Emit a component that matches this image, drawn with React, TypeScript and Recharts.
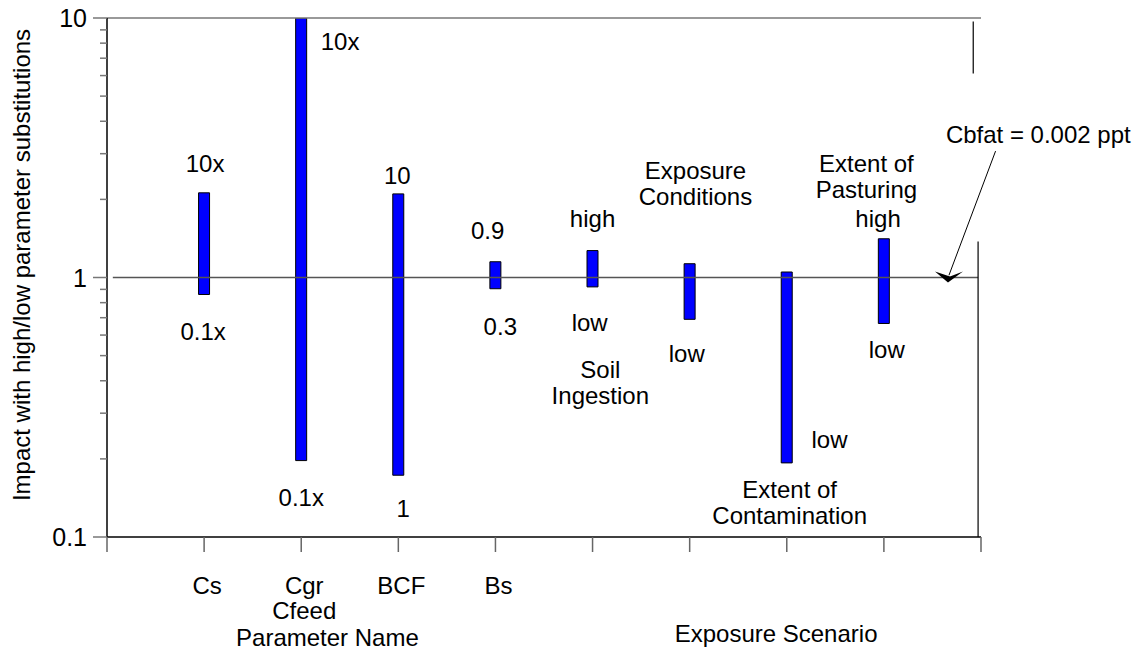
import { ComposedChart, Bar, XAxis, YAxis, ReferenceLine, ReferenceDot } from 'recharts';

// bar positions on the x axis (tick index) and ranges
const positions = [1, 2, 3, 4, 5, 6, 7, 8];
const lows = [0.86, 0.197, 0.173, 0.905, 0.92, 0.69, 0.193, 0.665];
const highs = [2.12, 10, 2.1, 1.15, 1.27, 1.13, 1.05, 1.41];

const xTicks = [0, 1, 2, 3, 4, 5, 6, 7, 8, 9];
const xTickLabels = ['', 'Cs', 'Cgr\nCfeed', 'BCF', 'Bs', '', '', '', '', ''];

const yMajor = [0.1, 1, 10];
const yTicks = [0.1, 0.2, 0.3, 0.4, 0.5, 0.6, 0.7, 0.8, 0.9, 1, 2, 3, 4, 5, 6, 7, 8, 9, 10];

// annotation text anchored in data coordinates
const noteText = [
  '10x', '0.1x', '10x', '0.1x', '10', '1', '0.9', '0.3', 'high', 'low',
  'Soil\nIngestion', 'Exposure\nConditions', 'low', 'low', 'Extent of\nContamination',
  'Extent of\nPasturing', 'high', 'low', 'Cbfat = 0.002 ppt',
  'Parameter Name', 'Exposure Scenario',
];
const noteX = [
  1.01, 0.99, 2.4, 2.0, 2.99, 3.05, 3.92, 4.05, 5.0, 4.97,
  5.08, 6.06, 5.97, 7.44, 7.03,
  7.82, 7.94, 8.03, 9.59,
  2.27, 6.89,
];
const noteY = [
  2.75, 0.62, 8.12, 0.143, 2.49, 0.129, 1.52, 0.653, 1.69, 0.671,
  0.396, 2.32, 0.514, 0.238, 0.136,
  2.46, 1.7, 0.532, 3.56,
  0.041, 0.0425,
];

const data = positions.map((x, i) => ({ x, range: [lows[i], highs[i]] }));
const notes = noteText.map((t, i) => ({ text: t, x: noteX[i], y: noteY[i] }));

const font = "'Liberation Sans', Arial, sans-serif";
const fs = 24;
const lh = 26;

const YTick = (props: any) => {
  const { x, y, payload } = props;
  const major = yMajor.includes(payload.value);
  return (
    <g>
      <line x1={x - (major ? 14 : 7)} x2={x} y1={y} y2={y} stroke="#777" strokeWidth={1.5} />
      {major && (
        <text x={x - 20} y={y} dy={9} textAnchor="end" fontSize={25} fill="#000" fontFamily={font}>
          {payload.value}
        </text>
      )}
    </g>
  );
};

const XTick = (props: any) => {
  const { x, y, payload } = props;
  const lines = xTickLabels[payload.value].split('\n').filter((l) => l);
  return (
    <g>
      <line x1={x} x2={x} y1={y} y2={y + 15} stroke="#666" strokeWidth={1.5} />
      {lines.map((l, i) => (
        <text key={i} x={x + 3} y={y + 57 + i * 25} textAnchor="middle" fontSize={fs} fill="#000" fontFamily={font}>
          {l}
        </text>
      ))}
    </g>
  );
};

const Note = (text: string) => (props: any) => {
  const lines = text.split('\n');
  const start = -((lines.length - 1) * lh) / 2;
  return (
    <g>
      {lines.map((l, i) => (
        <text key={i} x={props.cx} y={props.cy + start + i * lh} dy={9} textAnchor="middle" fontSize={fs} fill="#000" fontFamily={font}>
          {l}
        </text>
      ))}
    </g>
  );
};

const Arrowhead = (props: any) => {
  const { cx, cy } = props;
  return (
    <polygon
      points={`${cx - 13},${cy - 6} ${cx + 2},${cy - 1} ${cx + 15},${cy - 6} ${cx},${cy + 5}`}
      fill="#000"
    />
  );
};

export default function App() {
  return (
    <div style={{ position: 'absolute', left: 0, top: 0, background: '#fff' }}>
      <ComposedChart width={1139} height={651} data={data} margin={{ top: 18, right: 158, bottom: 0, left: 0 }}>
        <XAxis
          dataKey="x"
          type="number"
          domain={[0, 9]}
          ticks={xTicks}
          height={114}
          tickSize={0}
          tickMargin={0}
          tick={<XTick />}
          axisLine={{ stroke: '#000', strokeWidth: 1.5 }}
          allowDataOverflow
        />
        <YAxis
          scale="log"
          domain={[0.1, 10]}
          ticks={yTicks}
          interval={0}
          width={107}
          tickSize={0}
          tickMargin={0}
          tick={<YTick />}
          axisLine={{ stroke: '#000', strokeWidth: 1.5 }}
          allowDataOverflow
          label={{
            content: () => (
              <text
                x={21}
                y={265}
                dy={9}
                transform="rotate(-90, 21, 265)"
                textAnchor="middle"
                fontSize={fs}
                fill="#000"
                fontFamily={font}
              >
                Impact with high/low parameter substitutions
              </text>
            ),
          }}
        />
        <ReferenceLine segment={[{ x: 0, y: 10 }, { x: 9, y: 10 }]} stroke="#777" strokeWidth={1.5} ifOverflow="visible" />
        <ReferenceLine segment={[{ x: 0.06, y: 1 }, { x: 8.97, y: 1 }]} stroke="#555" strokeWidth={1.5} ifOverflow="visible" />
        <ReferenceLine segment={[{ x: 8.92, y: 9.7 }, { x: 8.92, y: 6.11 }]} stroke="#000" strokeWidth={1.2} ifOverflow="visible" />
        <ReferenceLine segment={[{ x: 8.97, y: 1.376 }, { x: 8.97, y: 0.1 }]} stroke="#000" strokeWidth={1.2} ifOverflow="visible" />
        <ReferenceLine segment={[{ x: 9.15, y: 3.07 }, { x: 8.67, y: 1.02 }]} stroke="#000" strokeWidth={1} ifOverflow="visible" />
        <ReferenceDot x={8.66} y={1} r={0} shape={<Arrowhead />} ifOverflow="visible" />
        <Bar dataKey="range" barSize={11} fill="#0000ff" stroke="#000" strokeWidth={1} isAnimationActive={false} />
        {notes.map((n, i) => (
          <ReferenceDot key={i} x={n.x} y={n.y} r={0} shape={Note(n.text)} ifOverflow="visible" />
        ))}
      </ComposedChart>
    </div>
  );
}
